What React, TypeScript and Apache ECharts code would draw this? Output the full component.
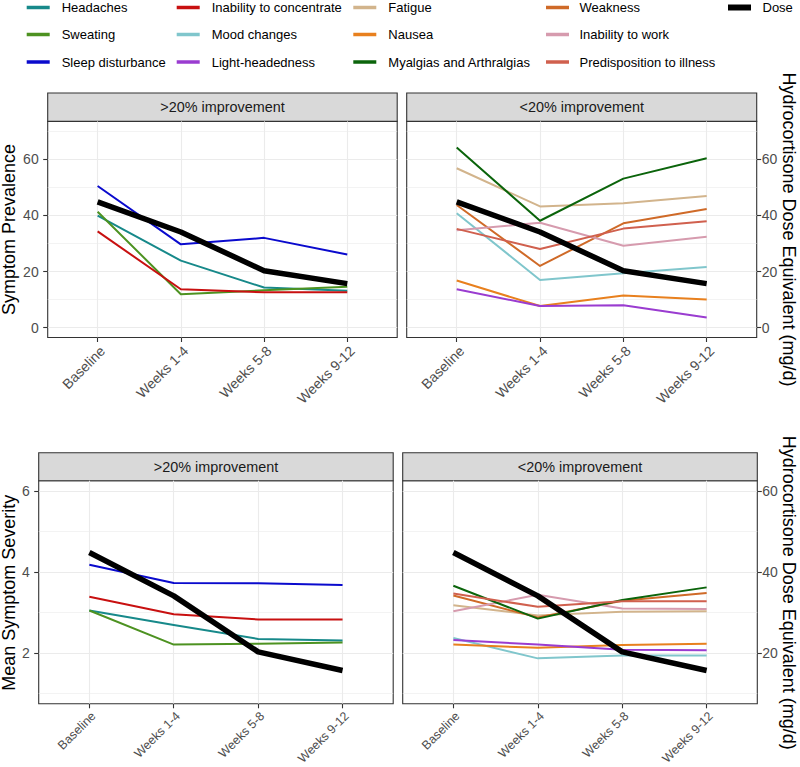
import React, { useEffect, useRef } from "react";
import * as echarts from "echarts";

// ---------- data ----------
const periods = ["Baseline", "Weeks 1-4", "Weeks 5-8", "Weeks 9-12"];
const dose = [44.8, 34.1, 20.3, 15.7];

// Symptom prevalence, >20% improvement
const prevHeadaches = [39.9, 23.9, 14.3, 13.2];
const prevSweating = [41.3, 11.9, 13.3, 14.6];
const prevSleep = [50.5, 29.7, 32.0, 26.1];
const prevConcentrate = [34.3, 13.7, 12.6, 12.6];

// Symptom prevalence, <20% improvement
const prevFatigue = [56.8, 43.2, 44.3, 46.9];
const prevWeakness = [43.7, 22.0, 37.2, 42.3];
const prevMood = [40.8, 17.0, 19.4, 21.6];
const prevNausea = [16.8, 7.7, 11.5, 10.0];
const prevWork = [34.7, 37.4, 29.2, 32.4];
const prevLight = [13.7, 7.7, 8.0, 3.6];
const prevMyalgia = [64.2, 38.1, 53.1, 60.4];
const prevPredisp = [35.2, 28.0, 35.3, 37.9];

// Mean symptom severity, >20% improvement
const sevHeadaches = [3.05, 2.69, 2.35, 2.31];
const sevSweating = [3.05, 2.21, 2.23, 2.26];
const sevSleep = [4.18, 3.73, 3.72, 3.68];
const sevConcentrate = [3.39, 2.96, 2.83, 2.83];

// Mean symptom severity, <20% improvement
const sevFatigue = [3.18, 2.93, 3.02, 3.03];
const sevWeakness = [3.42, 2.88, 3.29, 3.48];
const sevMood = [2.37, 1.87, 1.94, 1.94];
const sevNausea = [2.21, 2.13, 2.2, 2.23];
const sevWork = [3.03, 3.44, 3.1, 3.09];
const sevLight = [2.32, 2.21, 2.08, 2.07];
const sevMyalgia = [3.66, 2.85, 3.31, 3.62];
const sevPredisp = [3.47, 3.14, 3.28, 3.28];

const stripLabels = [">20% improvement", "<20% improvement", ">20% improvement", "<20% improvement"];
const prevTicks = [0, 20, 40, 60];
const prevMinor = [10, 30, 50, 70];
const sevTicks = [2, 4, 6];
const sevMinor = [1, 3, 5];
const sevDoseTicks = [20, 40, 60];

// ---------- styles ----------
const COLORS: Record<string, string> = {
  Headaches: "#17898A",
  Sweating: "#4D9221",
  "Sleep disturbance": "#0A0ACD",
  "Inability to concentrate": "#C81010",
  "Mood changes": "#80C6CC",
  "Light-headedness": "#9A3CD0",
  Fatigue: "#D2B48C",
  Nausea: "#E8801E",
  "Myalgias and Arthralgias": "#0B640B",
  Weakness: "#CF6A28",
  "Inability to work": "#D69BAE",
  "Predisposition to illness": "#D0604E",
  Dose: "#000000",
};

const FONT = "Liberation Sans, Arial, Helvetica, sans-serif";
const GRID_COLOR = "#EBEBEB";
const DARK = "#333333";
const TICK_TXT = "#4D4D4D";

const grids = [
  { left: 47.7, top: 121.4, width: 349.5, height: 216.1 },
  { left: 406.7, top: 121.4, width: 350, height: 216.1 },
  { left: 38.7, top: 480.7, width: 354.5, height: 224.1 },
  { left: 402.7, top: 480.7, width: 354.6, height: 224.1 },
];
const stripH = [28.4, 28.4, 28, 28];

// x positions: category i sits at i + 1 (discrete scale, 0.6 padding each side)
const xPos = periods.map((_, i) => i + 1);

function buildOption() {
  const xAxis: any[] = [];
  const yAxis: any[] = [];
  grids.forEach((g, gi) => {
    const top = gi < 2;
    xAxis.push({
      type: "value",
      gridIndex: gi,
      position: "bottom",
      min: 0.4,
      max: 4.6,
      axisLine: { show: false, onZero: false },
      axisTick: { show: true, customValues: xPos, length: 4.5, lineStyle: { color: DARK, width: 1.1 } },
      axisLabel: {
        customValues: xPos,
        formatter: (v: number) => periods[Math.round(v) - 1],
        rotate: 45,
        align: "right",
        verticalAlign: "top",
        margin: 6,
        fontSize: top ? 14 : 12.4,
        color: TICK_TXT,
        fontFamily: FONT,
      },
      splitLine: { show: true, lineStyle: { color: GRID_COLOR, width: 1.1 } },
    });
    const min = top ? -3.5 : 0.75;
    const max = top ? 73.5 : 6.25;
    const majors = top ? prevTicks : sevTicks;
    const leftSide = gi % 2 === 0;
    // primary axis (symptoms)
    yAxis.push({
      type: "value",
      gridIndex: gi,
      position: "left",
      min,
      max,
      axisLine: { show: false, onZero: false },
      axisTick: { show: leftSide, customValues: majors, length: 4.5, lineStyle: { color: DARK, width: 1.1 } },
      axisLabel: {
        show: leftSide,
        customValues: majors,
        fontSize: 14,
        color: TICK_TXT,
        fontFamily: FONT,
        margin: 9,
      },
      splitLine: { show: true, lineStyle: { color: GRID_COLOR, width: 1.1 } },
    });
    // secondary axis (dose)
    yAxis.push({
      type: "value",
      gridIndex: gi,
      position: "right",
      show: !leftSide,
      min: top ? min : min * 10,
      max: top ? max : max * 10,
      axisLine: { show: false, onZero: false },
      axisTick: {
        show: !leftSide,
        customValues: top ? prevTicks : sevDoseTicks,
        length: 4.5,
        lineStyle: { color: DARK, width: 1.1 },
      },
      axisLabel: {
        show: !leftSide,
        customValues: top ? prevTicks : sevDoseTicks,
        fontSize: 14,
        color: TICK_TXT,
        fontFamily: FONT,
        margin: 5,
      },
      splitLine: { show: false },
    });
  });

  const series: any[] = [];
  const addLine = (name: string, values: number[], gi: number, yi: number, width: number, z: number) => {
    series.push({
      type: "line",
      name,
      xAxisIndex: gi,
      yAxisIndex: yi,
      data: values.map((v, i) => [xPos[i], v]),
      symbol: "none",
      showSymbol: false,
      silent: true,
      z,
      lineStyle: { color: COLORS[name], width, cap: "butt", join: "round" },
      itemStyle: { color: COLORS[name] },
      emphasis: { disabled: true },
    });
  };

  const panels: [string, number[]][][] = [
    [
      ["Headaches", prevHeadaches],
      ["Sweating", prevSweating],
      ["Sleep disturbance", prevSleep],
      ["Inability to concentrate", prevConcentrate],
    ],
    [
      ["Fatigue", prevFatigue],
      ["Weakness", prevWeakness],
      ["Mood changes", prevMood],
      ["Nausea", prevNausea],
      ["Inability to work", prevWork],
      ["Light-headedness", prevLight],
      ["Myalgias and Arthralgias", prevMyalgia],
      ["Predisposition to illness", prevPredisp],
    ],
    [
      ["Headaches", sevHeadaches],
      ["Sweating", sevSweating],
      ["Sleep disturbance", sevSleep],
      ["Inability to concentrate", sevConcentrate],
    ],
    [
      ["Fatigue", sevFatigue],
      ["Weakness", sevWeakness],
      ["Mood changes", sevMood],
      ["Nausea", sevNausea],
      ["Inability to work", sevWork],
      ["Light-headedness", sevLight],
      ["Myalgias and Arthralgias", sevMyalgia],
      ["Predisposition to illness", sevPredisp],
    ],
  ];
  panels.forEach((list, gi) => {
    const minors = gi < 2 ? prevMinor : sevMinor;
    // minor horizontal grid lines (drawn through the panel's primary y scale)
    series.push({
      type: "line",
      name: "minor-grid",
      xAxisIndex: gi,
      yAxisIndex: gi * 2,
      data: [],
      silent: true,
      z: 0,
      markLine: {
        silent: true,
        symbol: ["none", "none"],
        z: 0,
        label: { show: false },
        emphasis: { disabled: true },
        lineStyle: { color: GRID_COLOR, width: 0.6, type: "solid" },
        data: minors.map((v) => ({ yAxis: v })),
        animation: false,
      },
    });
    list.forEach(([name, vals]) => addLine(name, vals, gi, gi * 2, 2, 2));
    addLine("Dose", dose, gi, gi * 2 + 1, 5.5, 3);
  });

  // ---------- graphics: strips, titles, legend ----------
  const graphic: any[] = [];
  grids.forEach((g, gi) => {
    const h = stripH[gi];
    graphic.push({
      type: "rect",
      shape: { x: g.left, y: g.top - h, width: g.width, height: h },
      style: { fill: "#D9D9D9", stroke: DARK, lineWidth: 1.1 },
      silent: true,
    });
    graphic.push({
      type: "text",
      x: g.left + g.width / 2,
      y: g.top - h / 2,
      style: {
        text: stripLabels[gi],
        fill: "#1A1A1A",
        font: `14.4px ${FONT}`,
        align: "center",
        verticalAlign: "middle",
      },
      silent: true,
    });
  });
  const titles = [
    { text: "Symptom Prevalence", x: 9, y: grids[0].top + grids[0].height / 2, rot: Math.PI / 2 },
    { text: "Mean Symptom Severity", x: 9, y: grids[2].top + grids[2].height / 2, rot: Math.PI / 2 },
    { text: "Hydrocortisone Dose Equivalent (mg/d)", x: 789, y: grids[1].top + grids[1].height / 2, rot: -Math.PI / 2 },
    { text: "Hydrocortisone Dose Equivalent (mg/d)", x: 789, y: grids[3].top + grids[3].height / 2, rot: -Math.PI / 2 },
  ];
  titles.forEach((t) => {
    graphic.push({
      type: "text",
      x: t.x,
      y: t.y,
      rotation: t.rot,
      style: { text: t.text, fill: "#000", font: `18px ${FONT}`, align: "center", verticalAlign: "middle" },
      silent: true,
    });
  });

  const legendCols = [
    ["Headaches", "Sweating", "Sleep disturbance"],
    ["Inability to concentrate", "Mood changes", "Light-headedness"],
    ["Fatigue", "Nausea", "Myalgias and Arthralgias"],
    ["Weakness", "Inability to work", "Predisposition to illness"],
    ["Dose"],
  ];
  const keyX = [26.7, 176.7, 353.3, 546, 728];
  const textX = [61.7, 211.7, 388.3, 579.5, 762.5];
  const rowY = [7.5, 34.5, 62];
  legendCols.forEach((col, ci) => {
    col.forEach((name, ri) => {
      const kh = name === "Dose" ? 6 : 3.5;
      graphic.push({
        type: "rect",
        shape: { x: keyX[ci], y: rowY[ri] - kh / 2, width: 23, height: kh },
        style: { fill: COLORS[name] },
        silent: true,
      });
      graphic.push({
        type: "text",
        x: textX[ci],
        y: rowY[ri],
        style: { text: name, fill: "#000", font: `13px ${FONT}`, align: "left", verticalAlign: "middle" },
        silent: true,
      });
    });
  });

  return {
    animation: false,
    backgroundColor: "#ffffff",
    textStyle: { fontFamily: FONT },
    grid: grids.map((g) => ({
      left: g.left,
      top: g.top,
      width: g.width,
      height: g.height,
      show: true,
      backgroundColor: "#ffffff",
      borderColor: DARK,
      borderWidth: 1.1,
    })),
    xAxis,
    yAxis,
    series,
    graphic,
  };
}

export default function App() {
  const ref = useRef<HTMLDivElement>(null);
  useEffect(() => {
    if (!ref.current) return;
    const chart = echarts.init(ref.current, null, { renderer: "svg" });
    chart.setOption(buildOption() as any);
    return () => chart.dispose();
  }, []);
  return (
    <div
      ref={ref}
      style={{ position: "fixed", left: 0, top: 0, width: 800, height: 767, background: "#fff" }}
    />
  );
}
